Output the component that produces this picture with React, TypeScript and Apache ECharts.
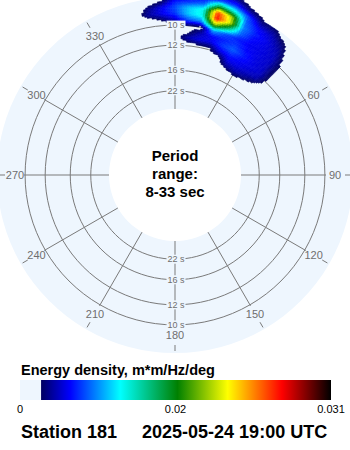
import React, { useEffect, useRef } from 'react';
import * as echarts from 'echarts';

// ---------------- data ----------------
const STATION = 'Station 181';
const TIMESTAMP = '2025-05-24 19:00 UTC';
const PERIOD_MIN = 8; // s  (outer edge)
const PERIOD_MAX = 33; // s (inner edge)
const PERIOD_RINGS = [10, 12, 16, 22]; // s
const DIRECTION_LABELS = [0, 30, 60, 90, 120, 150, 180, 210, 240, 270, 300, 330];

// spectrum grid: directions (deg, from north, clockwise) x frequencies (Hz)
const SPEC_DIRS = [-15, -10, -5, 0, 5, 10, 15, 20, 25, 30, 35, 40, 45, 50];
const SPEC_FREQS = [0.065, 0.07, 0.075, 0.08, 0.085, 0.09, 0.095, 0.1, 0.105, 0.11, 0.115, 0.12, 0.125, 0.13, 0.135];
// energy density, m*m/Hz/deg, one row per frequency, one column per direction
const E_F065 = [0, 0, 0, 0, 0, 0, 0, 0, 0, 0, 0, 0, 0, 0];
const E_F070 = [0, 0, 0, 0, 0, 0, 0, 0, 0.0005, 0.0016, 0.0012, 0, 0, 0];
const E_F075 = [0, 0, 0, 0, 0, 0, 0, 0.0008, 0.0028, 0.0035, 0.003, 0.0019, 0, 0];
const E_F080 = [0, 0, 0, 0, 0, 0.0008, 0.0012, 0.0018, 0.0045, 0.0045, 0.004, 0.0035, 0.0012, 0];
const E_F085 = [0, 0, 0, 0.0005, 0.0012, 0.0019, 0.0019, 0.0045, 0.0055, 0.005, 0.0045, 0.004, 0.0016, 0];
const E_F090 = [0, 0, 0, 0.0012, 0.0035, 0.0045, 0.0045, 0.006, 0.0068, 0.0055, 0.0045, 0.004, 0.0016, 0];
const E_F095 = [0, 0, 0, 0.0008, 0.0014, 0.0035, 0.005, 0.0055, 0.006, 0.005, 0.0045, 0.004, 0.0016, 0];
const E_F100 = [0, 0, 0.0005, 0.0014, 0.0022, 0.0012, 0.0085, 0.0065, 0.0055, 0.0048, 0.0045, 0.004, 0.0016, 0];
const E_F105 = [0, 0.0008, 0.0022, 0.0042, 0.0065, 0.0075, 0.019, 0.013, 0.007, 0.005, 0.0045, 0.0038, 0.0012, 0];
const E_F110 = [0, 0.003, 0.0045, 0.006, 0.009, 0.0105, 0.026, 0.02, 0.0075, 0.0055, 0.0045, 0.0033, 0.0006, 0];
const E_F115 = [0, 0.0025, 0.0045, 0.0065, 0.009, 0.0105, 0.025, 0.019, 0.007, 0.005, 0.004, 0.0025, 0, 0];
const E_F120 = [0, 0.0005, 0.0019, 0.0055, 0.006, 0.007, 0.015, 0.011, 0.0065, 0.0032, 0.003, 0.0012, 0, 0];
const E_F125 = [0, 0, 0.0003, 0.0035, 0.0048, 0.005, 0.0065, 0.006, 0.0032, 0.0014, 0.0012, 0, 0, 0];
const E_F130 = [0, 0, 0, 0.0012, 0.0025, 0.0032, 0.0042, 0.0032, 0.0008, 0, 0, 0, 0, 0];
const E_F135 = [0, 0, 0, 0, 0.0005, 0.0012, 0.0022, 0.0012, 0, 0, 0, 0, 0, 0];
const SPEC_ROWS = [E_F065, E_F070, E_F075, E_F080, E_F085, E_F090, E_F095, E_F100, E_F105, E_F110, E_F115, E_F120, E_F125, E_F130, E_F135];

// colour scale
const COLOR_MAX = 0.031;
const COLOR_THRESHOLD = 0.0021;
const COLOR_STOPS: [number, string][] = [
  [0.0021, '#000060'],
  [0.005, '#0000ff'],
  [0.01, '#00ffff'],
  [0.0157, '#008000'],
  [0.0207, '#ffff00'],
  [0.0261, '#ff0000'],
  [0.031, '#000000'],
];
const COLORBAR_LABELS = ['0', '0.02', '0.031'];

// ---------------- style ----------------
const BG = '#eef6fe';
const GRID = '#7a7a7a';
const LABEL = '#6e6e6e';
const FONT = '"Liberation Sans", Arial, Helvetica, sans-serif';
const CX = 175;
const CY = 175;
const R_IN = 66;
const R_DATA = 180;
const R_DISK = 178;
const R_SPOKE = 151;
const R_TICK = 176;
const R_LABEL = 160;

function hexToRgb(h: string) {
  const n = parseInt(h.slice(1), 16);
  return [(n >> 16) & 255, (n >> 8) & 255, n & 255];
}
function colorOf(v: number) {
  const s = COLOR_STOPS;
  if (v <= s[0][0]) return s[0][1];
  for (let k = 1; k < s.length; k++) {
    if (v <= s[k][0]) {
      const t = (v - s[k - 1][0]) / (s[k][0] - s[k - 1][0]);
      const a = hexToRgb(s[k - 1][1]);
      const b = hexToRgb(s[k][1]);
      const c = a.map((x, q) => Math.round(x + (b[q] - x) * t));
      return `rgb(${c[0]},${c[1]},${c[2]})`;
    }
  }
  return s[s.length - 1][1];
}
const norm360 = (d: number) => (d < 0 ? d + 360 : d);

function buildOption(): any {
  const F_IN = 1 / PERIOD_MAX;
  const F_OUT = 1 / PERIOD_MIN;
  const F_LABEL = F_IN + ((R_LABEL - R_IN) / (R_DATA - R_IN)) * (F_OUT - F_IN);

  const cells: number[][] = [];
  for (let j = 0; j < SPEC_FREQS.length - 1; j++) {
    for (let i = 0; i < SPEC_DIRS.length - 1; i++) {
      cells.push([SPEC_FREQS[j], norm360(SPEC_DIRS[i]), i, j]);
    }
  }

  const angleBase = {
    type: 'value',
    min: 0,
    max: 360,
    startAngle: 90,
    clockwise: true,
    interval: 30,
    axisLine: { show: false },
    axisTick: { show: false },
    axisLabel: { show: false },
    splitLine: { show: false },
    splitArea: { show: false },
  };

  const NA = 6;
  const NR = 4;

  return {
    animation: false,
    polar: [
      { center: [CX, CY], radius: [R_IN, R_DATA] },
      { center: [CX, CY], radius: [R_IN, R_DISK] },
      { center: [CX, CY], radius: [R_IN, R_SPOKE] },
      { center: [CX, CY], radius: [R_IN, R_TICK] },
    ],
    angleAxis: [
      { ...angleBase, polarIndex: 0 },
      { ...angleBase, polarIndex: 1 },
      { ...angleBase, polarIndex: 2, z: 1, splitLine: { show: true, lineStyle: { color: GRID, width: 1 } } },
      { ...angleBase, polarIndex: 3, z: 1, axisTick: { show: true, inside: true, length: 6, lineStyle: { color: GRID, width: 1 } } },
    ],
    radiusAxis: [
      { polarIndex: 0, type: 'value', min: F_IN, max: F_OUT, show: false },
      { polarIndex: 1, type: 'value', min: 0, max: 1, show: false },
      { polarIndex: 2, type: 'value', min: 0, max: 1, show: false },
      { polarIndex: 3, type: 'value', min: 0, max: 1, show: false },
    ],
    grid: { left: 20, top: 380, width: 311, height: 20 },
    xAxis: {
      type: 'value',
      min: 0,
      max: COLOR_MAX,
      interval: COLOR_MAX / 2,
      axisLine: { show: false },
      axisTick: { show: false },
      splitLine: { show: false },
      axisLabel: {
        showMinLabel: true,
        showMaxLabel: true,
        margin: 3,
        color: '#000',
        fontFamily: FONT,
        fontSize: 11,
        formatter: (_v: number, idx: number) => COLORBAR_LABELS[idx] ?? '',
      },
    },
    yAxis: { type: 'value', min: 0, max: 1, show: false },
    series: [
      // background disk (annulus between the period range limits)
      {
        type: 'custom',
        coordinateSystem: 'polar',
        polarIndex: 1,
        z: 0,
        silent: true,
        data: [[1, 90]],
        renderItem: (params: any, api: any) => {
          const cs = params.coordSys;
          const pOut = api.coord([1, 90]);
          const pIn = api.coord([0, 90]);
          return {
            type: 'ring',
            shape: {
              cx: cs.cx,
              cy: cs.cy,
              r: Math.hypot(pOut[0] - cs.cx, pOut[1] - cs.cy),
              r0: Math.hypot(pIn[0] - cs.cx, pIn[1] - cs.cy),
            },
            style: { fill: BG },
          };
        },
      },
      // period rings
      {
        type: 'custom',
        coordinateSystem: 'polar',
        polarIndex: 0,
        z: 2,
        silent: true,
        data: PERIOD_RINGS.map((t) => [1 / t, 90]),
        renderItem: (params: any, api: any) => {
          const cs = params.coordSys;
          const p = api.coord([api.value(0), 90]);
          const r = Math.hypot(p[0] - cs.cx, p[1] - cs.cy);
          return {
            type: 'circle',
            shape: { cx: cs.cx, cy: cs.cy, r },
            style: { fill: 'none', stroke: GRID, lineWidth: 1 },
          };
        },
      },
      // period ring labels (drawn above the spectrum)
      {
        type: 'custom',
        coordinateSystem: 'polar',
        polarIndex: 0,
        z: 6,
        silent: true,
        data: PERIOD_RINGS.map((t) => [1 / t, 90, t]),
        renderItem: (_params: any, api: any) => {
          const t = api.value(2);
          const mk = (ang: number) => {
            const p = api.coord([api.value(0), ang]);
            return {
              type: 'text',
              x: p[0] + 1,
              y: p[1],
              style: {
                text: `${t} s`,
                textAlign: 'center',
                textVerticalAlign: 'middle',
                font: `9px ${FONT}`,
                fill: LABEL,
                backgroundColor: BG,
                padding: [0, 1],
              },
            };
          };
          return { type: 'group', children: [mk(0.001), mk(180)] };
        },
      },
      // direction labels
      {
        type: 'custom',
        coordinateSystem: 'polar',
        polarIndex: 0,
        z: 2,
        silent: true,
        data: DIRECTION_LABELS.map((a) => [F_LABEL, a + 360, a]),
        renderItem: (_params: any, api: any) => {
          const p = api.coord([api.value(0), api.value(2)]);
          return {
            type: 'text',
            x: p[0],
            y: p[1],
            style: {
              text: String(api.value(2)),
              textAlign: 'center',
              textVerticalAlign: 'middle',
              font: `11px ${FONT}`,
              fill: LABEL,
            },
          };
        },
      },
      // directional spectrum
      {
        type: 'custom',
        coordinateSystem: 'polar',
        polarIndex: 0,
        z: 4,
        silent: true,
        data: cells,
        renderItem: (_params: any, api: any) => {
          const i = api.value(2) as number;
          const j = api.value(3) as number;
          const row0 = SPEC_ROWS[j];
          const row1 = SPEC_ROWS[j + 1];
          const v00 = row0[i];
          const v10 = row0[i + 1];
          const v01 = row1[i];
          const v11 = row1[i + 1];
          if (Math.max(v00, v10, v01, v11) < COLOR_THRESHOLD) return { type: 'group', children: [] };
          const shift = SPEC_DIRS[i] < 0 ? 360 : 0;
          const d0 = SPEC_DIRS[i] + shift;
          const d1 = SPEC_DIRS[i + 1] + shift;
          const f0 = SPEC_FREQS[j];
          const f1 = SPEC_FREQS[j + 1];
          const pts: number[][][] = [];
          for (let a = 0; a <= NA; a++) {
            const col: number[][] = [];
            const d = d0 + ((d1 - d0) * a) / NA;
            for (let b = 0; b <= NR; b++) {
              col.push(api.coord([f0 + ((f1 - f0) * b) / NR, d]));
            }
            pts.push(col);
          }
          const children: any[] = [];
          for (let a = 0; a < NA; a++) {
            for (let b = 0; b < NR; b++) {
              const u = (a + 0.5) / NA;
              const w = (b + 0.5) / NR;
              const val = v00 * (1 - u) * (1 - w) + v10 * u * (1 - w) + v01 * (1 - u) * w + v11 * u * w;
              if (val < COLOR_THRESHOLD) continue;
              const c = colorOf(val);
              children.push({
                type: 'polygon',
                shape: { points: [pts[a][b], pts[a + 1][b], pts[a + 1][b + 1], pts[a][b + 1]] },
                style: { fill: c, stroke: c, lineWidth: 0.6 },
              });
            }
          }
          return { type: 'group', children };
        },
      },
      // colour bar
      {
        type: 'custom',
        coordinateSystem: 'cartesian2d',
        silent: true,
        data: [[COLOR_MAX / 2, 0.5]],
        renderItem: (_params: any, api: any) => {
          const pL = api.coord([0, 0]);
          const pT = api.coord([COLOR_THRESHOLD, 1]);
          const pR = api.coord([COLOR_MAX, 1]);
          const span = COLOR_MAX - COLOR_THRESHOLD;
          const stops = COLOR_STOPS.map(([v, c]) => ({ offset: (v - COLOR_THRESHOLD) / span, color: c }));
          return {
            type: 'group',
            children: [
              {
                type: 'rect',
                shape: { x: pL[0], y: pT[1], width: pT[0] - pL[0], height: pL[1] - pT[1] },
                style: { fill: BG },
              },
              {
                type: 'rect',
                shape: { x: pT[0], y: pT[1], width: pR[0] - pT[0], height: pL[1] - pT[1] },
                style: { fill: new echarts.graphic.LinearGradient(0, 0, 1, 0, stops) },
              },
            ],
          };
        },
      },
    ],
    graphic: [
      {
        type: 'text',
        x: CX,
        y: 173,
        style: {
          text: `Period\nrange:\n${PERIOD_MIN}-${PERIOD_MAX} sec`,
          textAlign: 'center',
          textVerticalAlign: 'middle',
          font: `bold 15px ${FONT}`,
          lineHeight: 18,
          fill: '#000',
        },
      },
      {
        type: 'text',
        x: 21,
        y: 370,
        style: {
          text: 'Energy density, m*m/Hz/deg',
          textVerticalAlign: 'middle',
          font: `bold 14.5px ${FONT}`,
          fill: '#000',
        },
      },
      {
        type: 'text',
        x: 21,
        y: 432,
        style: {
          text: `${STATION}\u00a0\u00a0\u00a0\u00a0\u00a0${TIMESTAMP}`,
          textVerticalAlign: 'middle',
          font: `bold 18px ${FONT}`,
          fill: '#000',
        },
      },
    ],
  };
}

export default function App() {
  const ref = useRef<HTMLDivElement>(null);
  useEffect(() => {
    document.body.style.margin = '0';
    const chart = echarts.init(ref.current as HTMLDivElement, undefined, { renderer: 'svg' });
    chart.setOption(buildOption());
    return () => chart.dispose();
  }, []);
  return <div ref={ref} style={{ width: 350, height: 450 }} />;
}
